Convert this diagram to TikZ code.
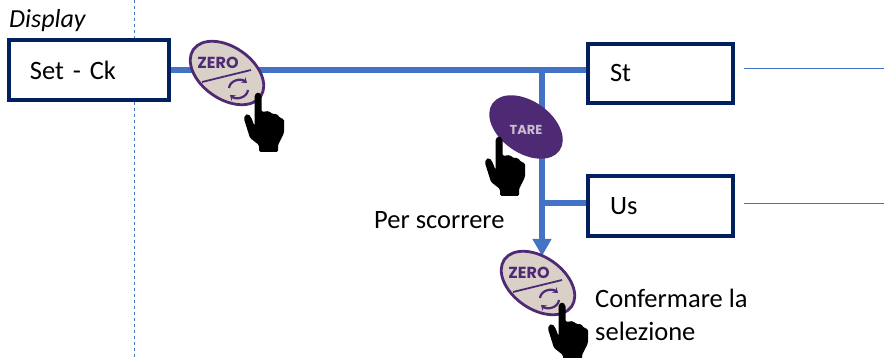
\documentclass[tikz,border=0pt]{standalone}
\usepackage{fontspec}
\setmainfont{Carlito}
\newfontfamily\btnfont{Poppins}
\usetikzlibrary{arrows.meta,backgrounds,shapes.geometric}
\definecolor{boxblue}{HTML}{002060}
\definecolor{flowblue}{HTML}{4472C4}
\definecolor{btnpurple}{HTML}{4F2A74}
\definecolor{btnbeige}{HTML}{D9D0C8}
\definecolor{tarelabel}{HTML}{C9BDD0}
\tikzset{
    menubox/.style={draw=boxblue, line width=4pt, fill=white, text width=#1, align=left, inner sep=0pt, anchor=north west, font=\fontsize{26.5}{30}\selectfont},
    flow/.style={flowblue, line width=5.5pt},
    lead/.style={flowblue, line width=1pt},
    caption/.style={anchor=west, inner sep=0pt, align=left, font=\fontsize{26.5}{33}\selectfont},
    btn/.style={ellipse, rotate=-35, minimum width=82pt, minimum height=52pt, inner sep=0pt, outer sep=0pt},
    zerobtn/.pic={
        \node[btn, draw=btnpurple, line width=2.8pt, fill=btnbeige] (-body) at (0,0) {};
        \node[btnpurple, inner sep=0pt, font=\btnfont\bfseries\fontsize{16}{16}\selectfont] at (-9,-10) {ZERO};
        \draw[btnpurple, line width=1.8pt] (-25,9) -- (24,-3);
        \draw[btnpurple, line width=2.2pt, -{Stealth[length=5pt,width=7pt]}] (2,15) .. controls (3,7) and (14,5) .. (20,10);
        \draw[btnpurple, line width=2.2pt, -{Stealth[length=5pt,width=7pt]}] (21,17) .. controls (20,25) and (9,27) .. (3,22);
    },
    tarebtn/.pic={
        \node[btn, fill=btnpurple] (-body) at (0,0) {};
        \node[tarelabel, inner sep=0pt, font=\btnfont\bfseries\fontsize{13}{13}\selectfont] at (0,3) {TARE};
    },
    hand/.pic={
        \fill[black, rounded corners=1.5pt] (-3.5,2) -- (-3.5,33) -- (-7,24) -- (-10,21) -- (-13,22) -- (-14,26)
            -- (-8,45) -- (1,52) -- (1,59) -- (20,59) -- (20,52) -- (26,40) -- (26,26) -- (22,25) -- (19,21)
            -- (14,21) -- (11,18) -- (3.5,19) -- (3.5,2) -- (0,-1) -- cycle;
    },
}
\begin{document}
\begin{tikzpicture}[x=1pt, y=-1pt]
            \useasboundingbox (0,0) rectangle (884,358);

            %% boxes
            \node[menubox=160pt, minimum height=60pt] (setck) at (7,38) {\hspace*{21pt}Set - Ck};
            \node[menubox=145pt, minimum height=59pt] (st) at (586,42) {\hspace*{22pt}\raisebox{-2pt}{St}};
            \node[menubox=145pt, minimum height=60pt] (us) at (586,174) {\hspace*{22pt}\raisebox{-2pt}{Us}};

            %% buttons
            \pic (zeroa) at (227,73) {zerobtn};
            \pic (tare) at (526,127) {tarebtn};
            \pic (zerob) at (538,283) {zerobtn};

            %% hands
            \pic at (258,93) {hand};
            \pic at (499,137) {hand};
            \pic at (562,303) {hand};

            %% texts
            \node[caption, font=\itshape\fontsize{26}{33}\selectfont] (display) at (9,21) {Display};
            \node[caption] (scroll) at (374,220) {Per scorrere};
            \node[caption] (confirm) at (595,315) {Confermare la\\selezione};

            \coordinate (ruletop) at (134,0);
            \coordinate (rulebottom) at (134,358);
            \coordinate (stlead) at (884,69);
            \coordinate (uslead) at (884,204);
            \coordinate (branch) at (542,70);
            \coordinate (usbranch) at (542,203);
            \coordinate (tip) at (542,256);

            \begin{scope}[on background layer]
                \draw[lead, dashed] (ruletop) -- (rulebottom);
                \draw[flow] (setck.east |- branch) -- (st.west |- branch);
                \draw[flow, -{Triangle[length=17pt,width=18pt]}] (branch) -- (tip);
                \draw[flow] (usbranch) -- (us.west |- usbranch);
                \draw[lead] (744,69) -- (stlead);
                \draw[lead] (744,204) -- (uslead);
            \end{scope}
\end{tikzpicture}
\end{document}
